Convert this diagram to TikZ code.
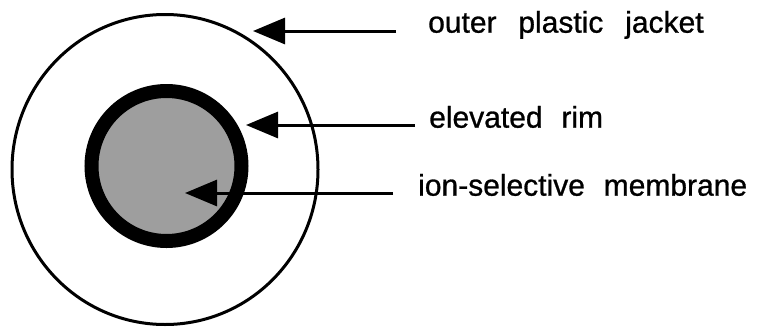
\documentclass[tikz,border=0pt]{standalone}
\usepackage{fontspec}
\setmainfont{Liberation Sans}
\newfontfamily\lblfont{Liberation Sans}[FakeBold=0.9]
\usetikzlibrary{arrows.meta}
\begin{document}
\begin{tikzpicture}[x=1pt,y=-1pt,
  lbl/.style={anchor=mid west, font=\fontsize{30}{36}\lblfont, inner sep=0pt},
  ptr/.style={line width=3pt, -{Triangle[length=32pt,width=26pt]}}]
\useasboundingbox (0,0) rectangle (779,327);
% outer plastic jacket
\draw[line width=3pt] (165,169.5) ellipse[x radius=153, y radius=155];
% membrane and rim
\fill[black!38] (166.5,166) circle[radius=75];
\draw[line width=14pt] (166.5,166) circle[radius=75];
% labels
\node[lbl] (jacket) at (428,30) {outer\hspace{0.45em} plastic\hspace{0.45em} jacket};
\node[lbl] (rim) at (429,125) {elevated\hspace{0.35em} rim};
\node[lbl] (memb) at (418,193) {ion-selective\hspace{0.35em} membrane};
% pointers
\coordinate (jacketS) at (396,31);
\coordinate (jacketT) at (253,31);
\coordinate (rimS) at (415,125);
\coordinate (rimT) at (246,125);
\coordinate (membS) at (393,193);
\coordinate (membT) at (185,193);
\draw[ptr] (jacketS) -- (jacketT);
\draw[ptr] (rimS) -- (rimT);
\draw[ptr] (membS) -- (membT);
\end{tikzpicture}
\end{document}
